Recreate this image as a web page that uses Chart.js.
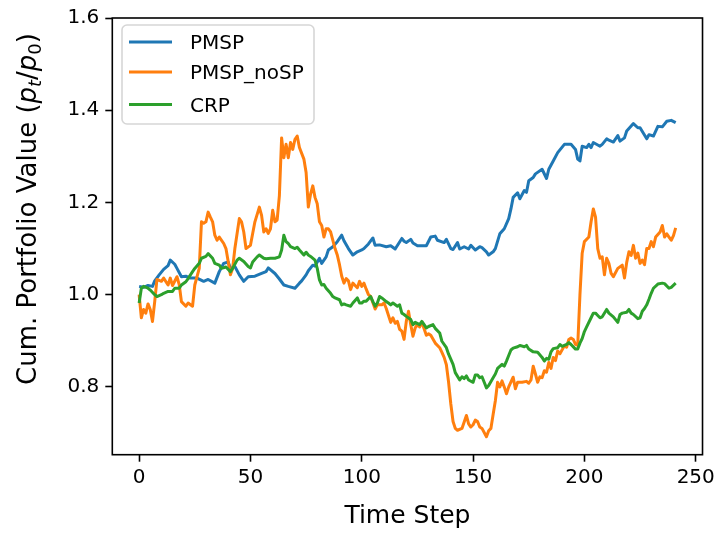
<!DOCTYPE html>
<html>
<head>
<meta charset="utf-8">
<script src="https://cdn.jsdelivr.net/npm/chart.js@4.4.0/dist/chart.umd.min.js"></script>
<style>
    body { margin: 0; background: #fff; }
</style>
</head>
<body>
<canvas id="chart" width="719" height="537"></canvas>
<script>
// series: [time step, cumulative value]
const pmsp = [[0,1.018],[2,1.016],[4,1.020],[6,1.018],[7,1.030],[9,1.043],[11,1.055],[13,1.063],[14,1.075],[16,1.066],
    [17,1.057],[19,1.039],[21,1.040],[23,1.036],[26,1.036],[29,1.029],[31,1.033],[34,1.025],[36,1.050],[38,1.068],
    [40,1.071],[41,1.057],[43,1.061],[45,1.043],[47,1.029],[49,1.039],[52,1.040],[55,1.046],[57,1.050],[58,1.058],
    [61,1.046],[63,1.034],[65,1.021],[67,1.018],[70,1.014],[72,1.025],[73,1.030],[75,1.043],[76,1.052],[78,1.064],
    [79,1.062],[81,1.079],[82,1.068],[84,1.082],[85,1.097],[87,1.104],[89,1.115],[91,1.129],[92,1.117],[94,1.100],
    [96,1.086],[98,1.093],[100,1.097],[101,1.100],[103,1.110],[105,1.123],[106,1.107],[108,1.108],[111,1.104],[113,1.106],
    [115,1.099],[118,1.122],[119,1.116],[120,1.113],[122,1.120],[123,1.112],[125,1.106],[127,1.106],[129,1.106],[131,1.125],
    [133,1.127],[134,1.118],[137,1.113],[138,1.120],[140,1.100],[141,1.098],[143,1.113],[144,1.099],[146,1.104],[148,1.099],
    [149,1.107],[151,1.097],[153,1.104],[154,1.102],[156,1.093],[157,1.086],[159,1.093],[160,1.100],[162,1.132],[164,1.143],
    [166,1.165],[167,1.186],[168,1.211],[170,1.221],[171,1.208],[173,1.226],[174,1.222],[175,1.247],[177,1.254],[178,1.262],
    [181,1.272],[183,1.252],[184,1.272],[186,1.290],[188,1.308],[191,1.326],[194,1.326],[196,1.315],[197,1.294],[198,1.290],
    [199,1.322],[201,1.319],[202,1.326],[203,1.319],[204,1.330],[207,1.322],[208,1.326],[210,1.338],[211,1.335],[213,1.331],
    [215,1.345],[216,1.333],[218,1.340],[219,1.355],[222,1.371],[224,1.362],[225,1.362],[228,1.338],[229,1.347],[231,1.344],
    [233,1.365],[235,1.364],[237,1.376],[239,1.378],[241,1.373]];

const pmspNoSP = [[0,1.000],[1,0.950],[2,0.968],[3,0.960],[4,0.980],[5,0.968],[6,0.942],[7,0.985],[8,1.033],[10,1.029],
    [11,1.036],[13,1.021],[14,1.036],[15,1.020],[17,1.039],[18,1.022],[19,0.985],[21,0.975],[22,0.982],[24,0.975],
    [25,1.021],[27,1.057],[28,1.158],[29,1.155],[30,1.158],[31,1.179],[32,1.168],[33,1.158],[34,1.129],[35,1.118],
    [36,1.125],[38,1.111],[39,1.100],[40,1.072],[41,1.043],[42,1.057],[43,1.100],[45,1.165],[46,1.158],[47,1.136],
    [48,1.100],[50,1.107],[52,1.158],[54,1.190],[55,1.172],[56,1.136],[57,1.143],[58,1.133],[59,1.143],[60,1.183],
    [61,1.158],[62,1.162],[63,1.215],[64,1.340],[65,1.297],[66,1.326],[67,1.297],[68,1.330],[69,1.315],[70,1.337],
    [71,1.344],[72,1.319],[74,1.294],[75,1.265],[76,1.190],[77,1.218],[78,1.236],[79,1.211],[80,1.197],[81,1.158],
    [82,1.150],[83,1.125],[84,1.143],[85,1.143],[86,1.136],[88,1.100],[89,1.086],[90,1.065],[91,1.040],[92,1.025],
    [93,1.035],[94,1.030],[95,1.011],[96,1.025],[97,1.020],[98,1.015],[99,1.029],[100,1.018],[101,1.025],[102,1.012],
    [103,1.000],[104,0.996],[106,0.969],[107,0.978],[109,0.978],[110,0.982],[111,0.970],[113,0.940],[114,0.950],[115,0.938],
    [116,0.942],[117,0.925],[118,0.921],[119,0.903],[120,0.942],[121,0.964],[122,0.935],[123,0.910],[124,0.928],[125,0.935],
    [126,0.930],[127,0.940],[129,0.912],[130,0.915],[131,0.912],[133,0.895],[135,0.885],[136,0.875],[137,0.864],[138,0.848],
    [139,0.810],[140,0.763],[141,0.725],[142,0.710],[143,0.706],[145,0.710],[147,0.738],[148,0.720],[149,0.713],[150,0.718],
    [151,0.728],[152,0.725],[153,0.713],[154,0.710],[156,0.692],[157,0.705],[158,0.710],[159,0.740],[160,0.770],[161,0.810],
    [162,0.800],[163,0.813],[164,0.800],[165,0.785],[166,0.800],[168,0.821],[169,0.796],[170,0.810],[172,0.810],[174,0.812],
    [175,0.808],[176,0.815],[177,0.845],[178,0.828],[179,0.810],[180,0.822],[181,0.820],[182,0.835],[183,0.832],[184,0.853],
    [185,0.840],[186,0.864],[187,0.857],[188,0.878],[189,0.872],[191,0.889],[192,0.886],[193,0.903],[194,0.906],[195,0.903],
    [196,0.892],[197,0.890],[198,1.000],[199,1.090],[200,1.115],[202,1.125],[203,1.158],[204,1.186],[205,1.168],[206,1.100],
    [207,1.079],[208,1.082],[209,1.043],[210,1.079],[211,1.068],[212,1.046],[213,1.039],[215,1.057],[217,1.064],[218,1.036],
    [219,1.070],[220,1.093],[221,1.085],[222,1.107],[223,1.079],[224,1.090],[225,1.068],[226,1.075],[227,1.065],[228,1.100],
    [229,1.100],[230,1.115],[231,1.104],[232,1.125],[234,1.136],[235,1.150],[236,1.125],[237,1.132],[238,1.125],[239,1.118],
    [240,1.128],[241,1.145]];

const crp = [[0,0.982],[1,1.014],[2,1.018],[4,1.014],[5,1.010],[7,1.000],[8,0.996],[10,1.000],[11,1.003],[13,1.007],
    [15,1.007],[16,1.014],[18,1.014],[19,1.021],[21,1.028],[22,1.035],[24,1.050],[25,1.057],[27,1.068],[28,1.079],
    [30,1.083],[31,1.089],[33,1.079],[34,1.068],[36,1.064],[37,1.057],[39,1.060],[41,1.050],[42,1.057],[44,1.075],
    [45,1.079],[47,1.072],[49,1.061],[50,1.058],[51,1.071],[53,1.082],[54,1.086],[56,1.079],[57,1.078],[59,1.079],
    [61,1.079],[63,1.082],[64,1.097],[65,1.129],[66,1.115],[67,1.111],[68,1.104],[70,1.100],[71,1.103],[72,1.097],
    [74,1.086],[75,1.092],[76,1.086],[77,1.083],[79,1.075],[80,1.057],[81,1.032],[82,1.021],[83,1.022],[84,1.014],
    [86,1.003],[87,0.996],[88,0.993],[90,0.989],[91,0.978],[92,0.980],[93,0.978],[95,0.975],[96,0.982],[98,0.993],
    [99,0.982],[100,0.982],[101,0.986],[102,0.986],[104,0.996],[105,0.985],[106,0.975],[107,0.982],[108,0.996],[109,0.993],
    [111,0.985],[112,0.982],[113,0.978],[114,0.982],[116,0.975],[117,0.978],[118,0.960],[119,0.957],[120,0.953],[122,0.946],
    [123,0.935],[124,0.940],[126,0.935],[127,0.942],[129,0.928],[130,0.931],[132,0.935],[133,0.927],[135,0.917],[136,0.899],
    [138,0.885],[139,0.871],[141,0.849],[142,0.831],[144,0.815],[145,0.822],[146,0.818],[147,0.824],[148,0.815],[150,0.810],
    [151,0.826],[152,0.826],[153,0.820],[154,0.822],[155,0.810],[156,0.798],[157,0.803],[159,0.820],[160,0.828],[161,0.840],
    [163,0.849],[164,0.845],[165,0.856],[166,0.868],[167,0.880],[168,0.884],[170,0.887],[171,0.890],[173,0.887],[174,0.890],
    [175,0.882],[177,0.876],[179,0.875],[181,0.864],[182,0.856],[183,0.862],[184,0.860],[185,0.876],[186,0.883],[188,0.885],
    [189,0.892],[190,0.888],[192,0.892],[193,0.896],[194,0.892],[196,0.882],[197,0.882],[198,0.895],[199,0.905],[200,0.920],
    [201,0.930],[203,0.950],[204,0.960],[205,0.960],[206,0.955],[207,0.950],[208,0.952],[210,0.968],[211,0.960],[213,0.952],
    [215,0.940],[216,0.957],[217,0.960],[219,0.962],[220,0.968],[221,0.960],[222,0.957],[224,0.948],[225,0.950],[226,0.964],
    [227,0.970],[228,0.978],[229,0.990],[230,1.003],[231,1.014],[233,1.023],[235,1.025],[236,1.024],[238,1.014],[239,1.016],
    [241,1.025]];

const seriesNames = ['PMSP', 'PMSP_noSP', 'CRP'];
const seriesColors = ['#1f77b4', '#ff7f0e', '#2ca02c'];
const xTicks = [0, 50, 100, 150, 200, 250];
const yTicks = [0.8, 1.0, 1.2, 1.4, 1.6];

const FONT = "'DejaVu Sans', sans-serif";

// frame, legend box and the two axis titles
const extras = {
    id: 'extras',
    afterDraw(chart) {
        const ctx = chart.ctx;
        const a = chart.chartArea;
        ctx.save();
        ctx.strokeStyle = '#000';
        ctx.lineWidth = 1.6;
        ctx.strokeRect(a.left, a.top, a.right - a.left, a.bottom - a.top);

        // legend
        const bx = 122, by = 25, bw = 192, bh = 99, r = 5;
        ctx.beginPath();
        ctx.moveTo(bx + r, by);
        ctx.arcTo(bx + bw, by, bx + bw, by + bh, r);
        ctx.arcTo(bx + bw, by + bh, bx, by + bh, r);
        ctx.arcTo(bx, by + bh, bx, by, r);
        ctx.arcTo(bx, by, bx + bw, by, r);
        ctx.closePath();
        ctx.fillStyle = 'rgba(255,255,255,0.8)';
        ctx.fill();
        ctx.strokeStyle = '#d6d6d6';
        ctx.lineWidth = 1.6;
        ctx.stroke();

        const rows = [42, 72, 104.5];
        ctx.font = '20px ' + FONT;
        ctx.textBaseline = 'alphabetic';
        ctx.textAlign = 'left';
        chart.data.datasets.forEach((ds, i) => {
            ctx.strokeStyle = ds.borderColor;
            ctx.lineWidth = 3;
            ctx.beginPath();
            ctx.moveTo(129, rows[i]);
            ctx.lineTo(172, rows[i]);
            ctx.stroke();
            ctx.fillStyle = '#000';
            ctx.fillText(ds.label, 190, rows[i] + 7.3);
        });

        // x title
        ctx.fillStyle = '#000';
        ctx.font = '25px ' + FONT;
        ctx.textAlign = 'center';
        ctx.fillText('Time Step', (a.left + a.right) / 2, 523);

        // y title with math part
        const parts = [
            { t: 'Cum. Portfolio Value (', f: '26px ' + FONT, dy: 0 },
            { t: 'p', f: 'italic 26px ' + FONT, dy: 0 },
            { t: 't', f: 'italic 18px ' + FONT, dy: 5 },
            { t: '/', f: '26px ' + FONT, dy: 0 },
            { t: 'p', f: 'italic 26px ' + FONT, dy: 0 },
            { t: '0', f: '18px ' + FONT, dy: 5 },
            { t: ')', f: '26px ' + FONT, dy: 0 }
        ];
        let total = 0;
        parts.forEach(p => { ctx.font = p.f; p.w = ctx.measureText(p.t).width; total += p.w; });
        ctx.translate(36, 209);
        ctx.rotate(-Math.PI / 2);
        ctx.textAlign = 'left';
        let x = -total / 2;
        parts.forEach(p => {
            ctx.font = p.f;
            ctx.fillText(p.t, x, p.dy);
            x += p.w;
        });
        ctx.restore();
    }
};

let ctx = document.getElementById('chart').getContext('2d');
let chart = new Chart(ctx, {
    type: 'line',
    data: {
        datasets: [pmsp, pmspNoSP, crp].map((s, i) => ({
            label: seriesNames[i],
            data: s.map(p => ({ x: p[0], y: p[1] })),
            borderColor: seriesColors[i],
            backgroundColor: seriesColors[i],
            borderWidth: 3,
            borderJoinStyle: 'round',
            pointRadius: 0,
            tension: 0,
            order: 3 - i
        }))
    },
    options: {
        responsive: false,
        animation: false,
        devicePixelRatio: 1,
        layout: { padding: { top: 14.7, right: 16.3, left: 0, bottom: 0 } },
        plugins: { legend: { display: false }, tooltip: { enabled: false } },
        scales: {
            x: {
                type: 'linear',
                min: -12.05,
                max: 253.05,
                afterBuildTicks: s => { s.ticks = xTicks.map(v => ({ value: v })); },
                afterFit: s => { s.height = 82.3; },
                grid: { drawOnChartArea: false, drawTicks: true, tickLength: 7, tickWidth: 1.6, tickColor: '#000' },
                border: { display: false },
                ticks: {
                    color: '#000',
                    padding: 4,
                    maxRotation: 0,
                    font: { family: FONT, size: 20 },
                    callback: v => String(v)
                }
            },
            y: {
                min: 0.653,
                max: 1.6,
                afterBuildTicks: s => { s.ticks = yTicks.map(v => ({ value: v })); },
                afterFit: s => { s.width = 112.3; },
                grid: { drawOnChartArea: false, drawTicks: true, tickLength: 7, tickWidth: 1.6, tickColor: '#000' },
                border: { display: false },
                ticks: {
                    color: '#000',
                    padding: 6,
                    font: { family: FONT, size: 20 },
                    callback: v => v.toFixed(1)
                }
            }
        }
    },
    plugins: [extras]
});
</script>
</body>
</html>
